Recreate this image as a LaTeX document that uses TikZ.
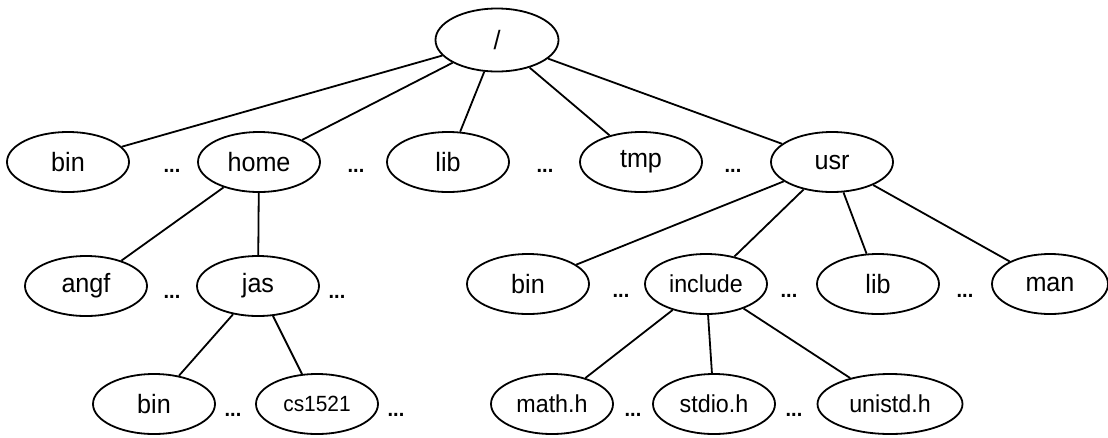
\documentclass[tikz,border=0pt]{standalone}
\usepackage{fontspec}
\setmainfont[FakeStretch=0.95]{Liberation Sans}
\usetikzlibrary{shapes.geometric}
\tikzset{
  dir/.style={draw, ellipse, line width=1.8pt, minimum width=122pt, minimum height=60pt, inner sep=0pt, font=\fontsize{26.5}{30}\selectfont},
  small/.style={font=\fontsize{24.5}{28}\selectfont},
  dots/.style={anchor=base, inner sep=0pt, font=\bfseries\fontsize{21}{24}\selectfont},
  edge/.style={line width=1.8pt}
}
\begin{document}
\begin{tikzpicture}[x=1pt,y=-1pt]
\useasboundingbox (0,0) rectangle (1108,437);
% root
\node[dir, minimum width=123pt, minimum height=63pt] (root) at (497,40) {/};
% row 2
\node[dir] (bin) at (68,162) {bin};
\node[dir] (home) at (259,162) {home};
\node[dir] (lib) at (448,162) {lib};
\node[dir] (tmp) at (641,162) {tmp};
\node[dir] (usr) at (832,162) {usr};
\node[dots] (d21) at (172,172) {...};
\node[dots] (d22) at (356,172) {...};
\node[dots] (d23) at (545,172) {...};
\node[dots] (d24) at (733,172) {...};
% row 3
\node[dir] (angf) at (86,286) {angf};
\node[dir] (jas) at (258,286) {jas};
\node[dir] (ubin) at (528,284) {bin};
\node[dir, small] (include) at (706,284) {include};
\node[dir] (ulib) at (878,284) {lib};
\node[dir, minimum width=116pt] (man) at (1050,284) {man};
\node[dots] (d31) at (172,298) {...};
\node[dots] (d32) at (337,298) {...};
\node[dots] (d33) at (621,297) {...};
\node[dots] (d34) at (789,297) {...};
\node[dots] (d35) at (965,297) {...};
% row 4
\node[dir] (jbin) at (154,404) {bin};
\node[dir, font=\fontsize{22}{25}\selectfont] (cs) at (317,404) {cs1521};
\node[dir, small] (math) at (552,404) {math.h};
\node[dir, small] (stdio) at (714,404) {stdio.h};
\node[dir, small, minimum width=145pt] (unistd) at (890,404) {unistd.h};
\node[dots] (d41) at (233,416) {...};
\node[dots] (d42) at (396,416) {...};
\node[dots] (d43) at (633,416) {...};
\node[dots] (d44) at (794,416) {...};
% edges
\draw[edge] (root) -- (bin);
\draw[edge] (root) -- (home);
\draw[edge] (root) -- (lib);
\draw[edge] (root) -- (tmp);
\draw[edge] (root) -- (usr);
\draw[edge] (home) -- (angf);
\draw[edge] (home) -- (jas);
\draw[edge] (jas) -- (jbin);
\draw[edge] (jas) -- (cs);
\draw[edge] (usr) -- (ubin);
\draw[edge] (usr) -- (include);
\draw[edge] (usr) -- (ulib);
\draw[edge] (usr) -- (man);
\draw[edge] (include) -- (math);
\draw[edge] (include) -- (stdio);
\draw[edge] (include) -- (unistd);
\end{tikzpicture}
\end{document}
